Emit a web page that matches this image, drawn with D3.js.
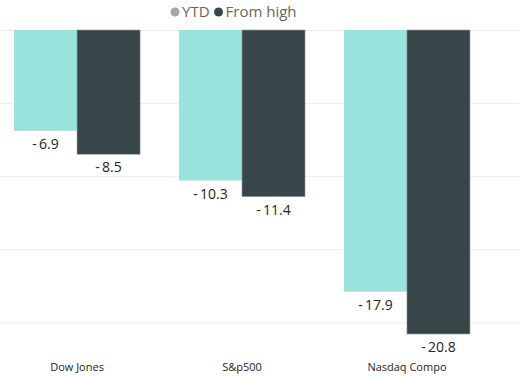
<!DOCTYPE html>
<html>
<head>
<meta charset="utf-8">
<script src="https://cdn.jsdelivr.net/npm/d3@7"></script>
<style>
  body { margin: 0; background: #fff; }
  text { font-family: "Open Sans", "Noto Sans", sans-serif; }
</style>
</head>
<body>
<div id="chart"></div>
<script>
'use strict'

// data
const categories = ["Dow Jones", "S&p500", "Nasdaq Compo"]
const seriesNames = ["YTD", "From high"]
const ytd = [-6.9, -10.3, -17.9]
const fromHigh = [-8.5, -11.4, -20.8]
const gridTicks = [0, -5, -10, -15, -20]

const svgWidth = 519
const svgHeight = 376

const svg = d3.select('#chart')
    .append('svg')
    .attr('width', svgWidth)
    .attr('height', svgHeight)

////////////////////////////////////
//////////// Scales ////////////////
////////////////////////////////////

const x = d3.scaleBand()
    .domain(categories)
    .range([0, 484])
    .paddingInner(0.236)
    .paddingOuter(0.085)

const xSub = d3.scaleBand()
    .domain(seriesNames)
    .range([0, x.bandwidth()])

const y = d3.scaleLinear()
    .domain([-20.8, 0])
    .range([334, 30])

const colors = { "YTD": "#99E3DD", "From high": "#374649" }
const legendDots = { "YTD": "#A6A6A6", "From high": "#374649" }

// grid
const yGrid = d3.axisLeft(y)
    .tickValues(gridTicks)
    .tickSize(-svgWidth)
    .tickFormat('')

svg.append('g')
    .attr('transform', `translate(${svgWidth},0)`)
    .call(yGrid)
    .call(g => g.select('.domain').remove())
    .selectAll('line')
    .attr('x1', -svgWidth).attr('x2', 0)
    .attr('stroke', '#ececec')

////////////////////////////////////
//////////// bars //////////////////
////////////////////////////////////

const rows = categories.map((c, i) => ({
    cat: c,
    values: [
        { key: "YTD", value: ytd[i] },
        { key: "From high", value: fromHigh[i] }
    ]
}))

const groups = svg.selectAll('.grp')
    .data(rows)
    .join('g')
    .attr('class', 'grp')
    .attr('transform', d => `translate(${x(d.cat)},0)`)

groups.selectAll('rect')
    .data(d => d.values)
    .join('rect')
    .attr('x', d => xSub(d.key))
    .attr('y', y(0))
    .attr('width', xSub.bandwidth())
    .attr('height', d => y(d.value) - y(0))
    .attr('fill', d => colors[d.key])
    .attr('stroke', d => d.key === "From high" ? "#8f9a9c" : "none")
    .attr('stroke-width', 0.6)

groups.selectAll('.lbl')
    .data(d => d.values)
    .join('text')
    .attr('class', 'lbl')
    .attr('x', d => xSub(d.key) + xSub.bandwidth() / 2)
    .attr('y', d => y(d.value) + 18)
    .attr('text-anchor', 'middle')
    .attr('font-size', '14px')
    .attr('fill', '#252423')
    .text(d => d.value.toFixed(1).replace('-', '-\u2009'))

// category labels
svg.selectAll('.cat')
    .data(categories)
    .join('text')
    .attr('class', 'cat')
    .attr('x', d => x(d) + x.bandwidth() / 2)
    .attr('y', 371)
    .attr('text-anchor', 'middle')
    .attr('font-size', '11px')
    .attr('fill', '#252423')
    .text(d => d)

////////////////////////////////////
//////////// legend ////////////////
////////////////////////////////////

const legend = svg.append('g')
let lx = 171
seriesNames.forEach(name => {
    legend.append('circle')
        .attr('cx', lx + 4)
        .attr('cy', 12)
        .attr('r', 4.5)
        .attr('fill', legendDots[name])
    const t = legend.append('text')
        .attr('x', lx + 11)
        .attr('y', 17)
        .attr('font-size', '15px')
        .attr('fill', '#666666')
        .text(name)
    lx += 11 + t.node().getComputedTextLength() + 5
})
</script>
</body>
</html>
